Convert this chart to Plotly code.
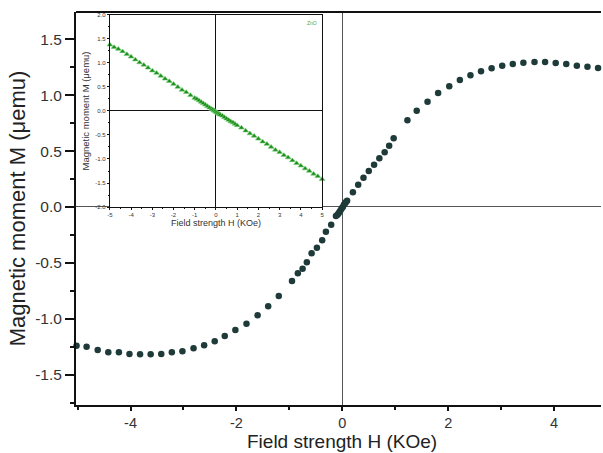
import plotly.graph_objects as go

# Main curve: Field strength H (KOe) vs Magnetic moment M (uemu)
main_h = [-5.02, -4.83, -4.62, -4.42, -4.22, -4.02, -3.82, -3.62, -3.42, -3.22,
          -3.02, -2.81, -2.61, -2.41, -2.22, -2.02, -1.81, -1.60, -1.40, -1.20,
          -0.95, -0.84, -0.75, -0.67, -0.58, -0.48, -0.38, -0.31, -0.21, -0.12,
          -0.09, -0.07, -0.05, -0.03, -0.01, 0.01, 0.03, 0.05, 0.07, 0.09,
          0.20, 0.30, 0.40, 0.50, 0.60, 0.70, 0.80, 0.885, 0.97, 1.23,
          1.405, 1.61, 1.81, 2.02, 2.22, 2.42, 2.62, 2.82, 3.02, 3.22,
          3.42, 3.63, 3.83, 4.03, 4.23, 4.43, 4.63, 4.83]
main_m = [-1.24, -1.25, -1.28, -1.30, -1.30, -1.315, -1.318, -1.318, -1.315, -1.30,
          -1.29, -1.264, -1.237, -1.20, -1.154, -1.10, -1.044, -0.969, -0.888, -0.796,
          -0.662, -0.593, -0.552, -0.495, -0.414, -0.364, -0.298, -0.221, -0.158, -0.08,
          -0.07, -0.055, -0.042, -0.027, -0.012, 0.0, 0.02, 0.032, 0.045, 0.056,
          0.131, 0.20, 0.262, 0.322, 0.378, 0.435, 0.49, 0.548, 0.614, 0.775,
          0.861, 0.942, 1.02, 1.08, 1.136, 1.178, 1.214, 1.24, 1.264, 1.279,
          1.29, 1.297, 1.297, 1.288, 1.279, 1.264, 1.255, 1.243]

# Inset: ZnO
inset_h = [-5.0, -4.8, -4.6, -4.4, -4.2, -4.0, -3.8, -3.6, -3.4, -3.2, -3.0, -2.8, -2.6,
           -2.4, -2.2, -2.0, -1.8, -1.6, -1.4, -1.2, -1.0, -0.9, -0.8, -0.7, -0.6, -0.5,
           -0.4, -0.3, -0.2, -0.15, -0.1, -0.05, 0.0, 0.05, 0.1, 0.15, 0.2, 0.3, 0.4,
           0.5, 0.6, 0.7, 0.8, 0.9, 1.0, 1.2, 1.4, 1.6, 1.8, 2.0, 2.2, 2.4, 2.6, 2.8,
           3.0, 3.2, 3.4, 3.6, 3.8, 4.0, 4.2, 4.4, 4.6, 4.8, 5.0]
inset_m = [1.38, 1.33, 1.29, 1.24, 1.18, 1.13, 1.07, 1.01, 0.96, 0.90, 0.84, 0.79, 0.73,
           0.67, 0.62, 0.56, 0.50, 0.44, 0.39, 0.33, 0.27, 0.25, 0.22, 0.19, 0.16, 0.13,
           0.10, 0.07, 0.04, 0.03, 0.01, 0.0, -0.02, -0.03, -0.05, -0.06, -0.08, -0.10, -0.13,
           -0.16, -0.19, -0.22, -0.24, -0.27, -0.30, -0.35, -0.41, -0.47, -0.52, -0.58, -0.64,
           -0.69, -0.75, -0.81, -0.86, -0.92, -0.97, -1.03, -1.09, -1.14, -1.20, -1.25, -1.31,
           -1.36, -1.42]

x_ticks = [-4, -2, 0, 2, 4]
y_ticks = [-1.5, -1.0, -0.5, 0.0, 0.5, 1.0, 1.5]
inset_x_ticks = [-5, -4, -3, -2, -1, 0, 1, 2, 3, 4, 5]
inset_y_ticks = [-2.0, -1.5, -1.0, -0.5, 0.0, 0.5, 1.0, 1.5, 2.0]

FONT = "Liberation Sans, Arial, sans-serif"

fig = go.Figure()
fig.add_trace(go.Scatter(
    x=main_h, y=main_m, mode="markers", cliponaxis=False,
    marker=dict(symbol="circle", size=6.5, color="#1e3a39"),
    showlegend=False, xaxis="x", yaxis="y"))
fig.add_trace(go.Scatter(
    x=inset_h, y=inset_m, mode="markers", cliponaxis=False,
    marker=dict(symbol="triangle-up", size=5, color="#1d8a1d",
                line=dict(color="#6fcf6f", width=0.6)),
    name="ZnO", showlegend=False, xaxis="x2", yaxis="y2"))

fig.update_layout(
    width=603, height=453,
    margin=dict(l=76, r=0, t=12, b=48),
    paper_bgcolor="white", plot_bgcolor="white",
    font=dict(family=FONT, color="#333333"),
    xaxis=dict(
        range=[-5.03, 4.886], tickmode="array", tickvals=x_ticks,
        ticktext=[str(v) for v in x_ticks],
        showline=True, linecolor="#111111", linewidth=2,
        ticks="outside", ticklen=4, tickwidth=2, tickcolor="#111111",
        minor=dict(dtick=1, tick0=0, ticks="outside", ticklen=3, tickwidth=2,
                   tickcolor="#111111", showgrid=False),
        showgrid=False, zeroline=True, zerolinecolor="#555555", zerolinewidth=1,
        tickfont=dict(size=14.5, color="#333333"),
    ),
    yaxis=dict(
        range=[-1.771, 1.744], tickmode="array", tickvals=y_ticks,
        ticktext=["%.1f" % v for v in y_ticks],
        showline=True, linecolor="#111111", linewidth=2,
        ticks="outside", ticklen=9, tickwidth=2, tickcolor="#111111",
        minor=dict(dtick=0.25, tick0=0, ticks="outside", ticklen=4, tickwidth=2,
                   tickcolor="#111111", showgrid=False),
        showgrid=False, zeroline=True, zerolinecolor="#555555", zerolinewidth=1,
        tickfont=dict(size=15.5, color="#333333"),
        title=dict(text="Magnetic moment M (\u03bcemu)", font=dict(size=22, color="#222222"),
                   standoff=3),
    ),
    xaxis2=dict(
        domain=[0.0645, 0.4687], anchor="y2", range=[-5, 5],
        tickmode="array", tickvals=inset_x_ticks,
        ticktext=[str(v) for v in inset_x_ticks],
        showline=True, mirror=True, linecolor="#111111", linewidth=1,
        ticks="outside", ticklen=2, tickwidth=1, tickcolor="#111111",
        minor=dict(dtick=0.5, tick0=0, ticks="outside", ticklen=1, tickwidth=1,
                   tickcolor="#111111", showgrid=False),
        showgrid=False, zeroline=True, zerolinecolor="#111111", zerolinewidth=1,
        tickfont=dict(size=6, color="#333333"),
        title=dict(text="Field strength H (KOe)", font=dict(size=9, color="#333333"),
                   standoff=2),
    ),
    yaxis2=dict(
        domain=[0.5038, 0.9924], anchor="x2", range=[-2, 2],
        tickmode="array", tickvals=inset_y_ticks,
        ticktext=["%.1f" % v for v in inset_y_ticks],
        showline=True, mirror=True, linecolor="#111111", linewidth=1,
        ticks="outside", ticklen=2, tickwidth=1, tickcolor="#111111",
        minor=dict(dtick=0.25, tick0=0, ticks="outside", ticklen=1, tickwidth=1,
                   tickcolor="#111111", showgrid=False),
        showgrid=False, zeroline=True, zerolinecolor="#111111", zerolinewidth=1,
        tickfont=dict(size=6, color="#333333"),
        title=dict(text="Magnetic moment M (\u03bcemu)", font=dict(size=9.5, color="#333333"),
                   standoff=3),
    ),
    shapes=[dict(type="line", xref="paper", yref="paper", x0=0, x1=1, y0=1, y1=1,
                 line=dict(color="#111111", width=2))],
    annotations=[
        dict(text="ZnO", xref="x2", yref="y2", x=4.85, y=1.93,
             xanchor="right", yanchor="top", showarrow=False,
             font=dict(size=5, color="#4aa83a", family=FONT)),
        dict(text="Field strength H (KOe)", xref="x", yref="paper", x=0.0, y=-0.0627,
             xanchor="center", yanchor="top", showarrow=False, borderpad=0,
             font=dict(size=19, color="#222222", family=FONT)),
    ],
)

fig.write_html("out.html")
